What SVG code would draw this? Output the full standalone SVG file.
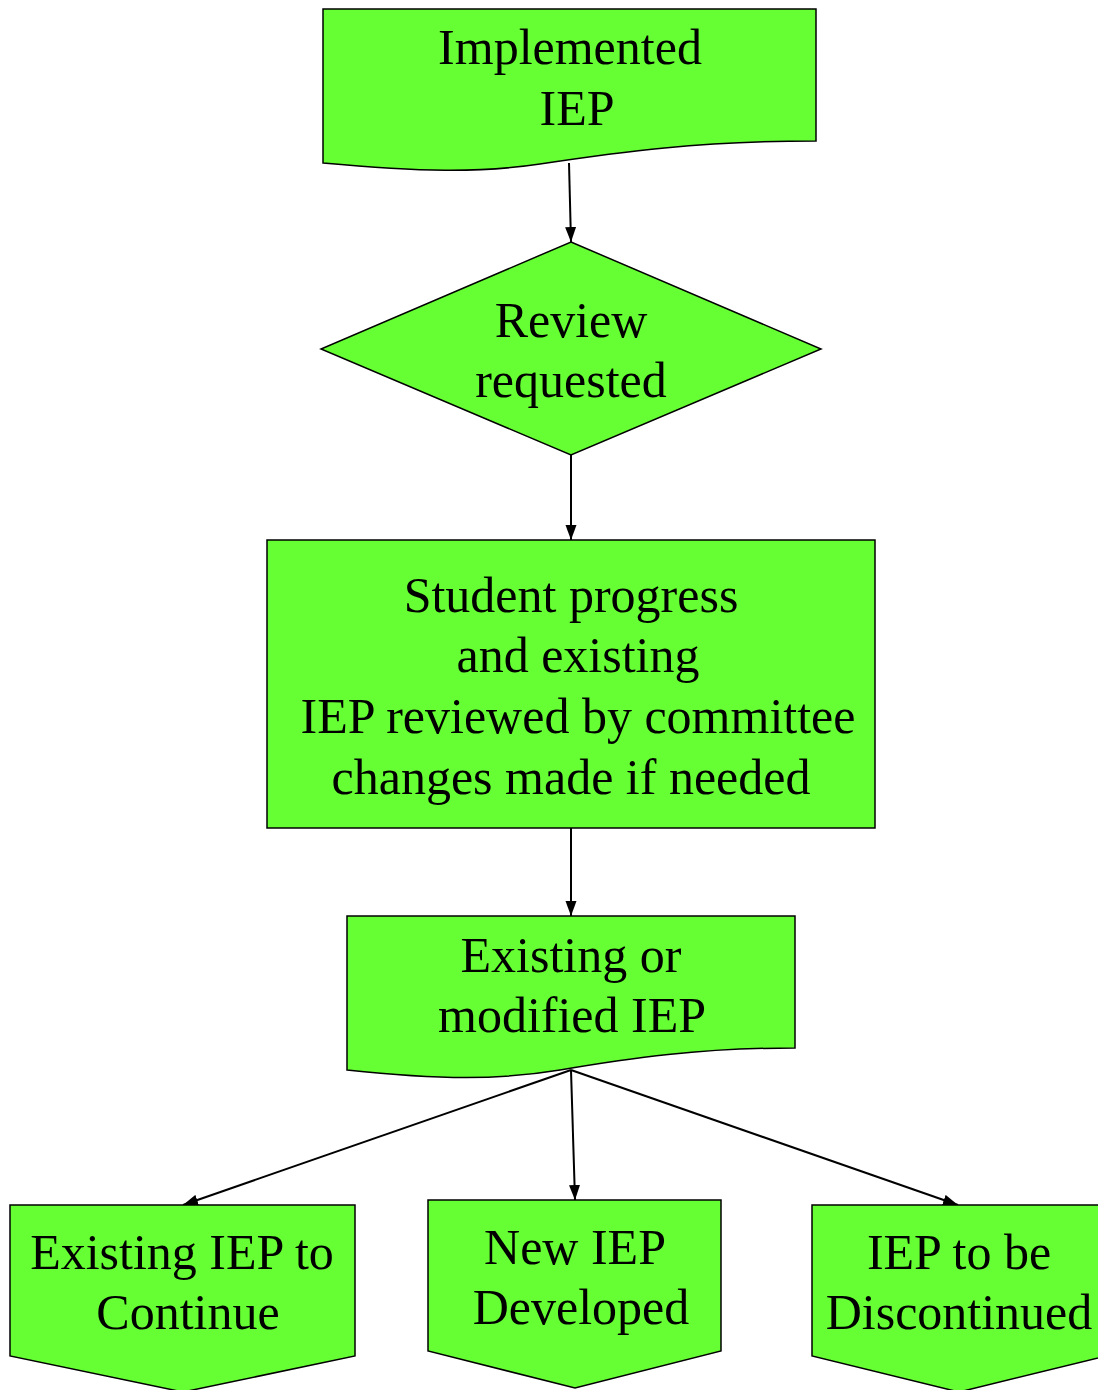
<svg xmlns="http://www.w3.org/2000/svg" width="1098" height="1390" viewBox="0 0 1098 1390">
<style>
.n{fill:#66ff33;stroke:#000;stroke-width:1.5}
.t{font-family:"Liberation Serif","Times New Roman",serif;font-size:50px;fill:#000;text-anchor:middle}
.c{stroke:#000;stroke-width:2;fill:none;marker-end:url(#ah)}
</style>
<defs>
<marker id="ah" markerWidth="15" markerHeight="12" refX="15" refY="6" orient="auto" markerUnits="userSpaceOnUse" viewBox="0 0 15 12">
<path d="M0,0.5 L15,6 L0,11.5 Z" fill="#000"/>
</marker>
</defs>
<g id="connectors">
<line class="c" x1="569" y1="163" x2="571" y2="242"/>
<line class="c" x1="571" y1="455" x2="571" y2="540"/>
<line class="c" x1="571" y1="828" x2="571" y2="916"/>
<line class="c" x1="571" y1="1070" x2="183" y2="1205"/>
<line class="c" x1="571" y1="1070" x2="575" y2="1200"/>
<line class="c" x1="571" y1="1070" x2="958" y2="1205"/>
</g>
<g id="n1">
<path class="n" d="M323,9 L816,9 L816,141 C700,141 620,152 540,164 C480,173 420,172 323,163 Z"/>
<text class="t" x="570" y="64">Implemented</text>
<text class="t" x="577" y="125">IEP</text>
</g>
<g id="n2">
<path class="n" d="M571,242 L821,349 L571,455 L321,349 Z"/>
<text class="t" x="571" y="337">Review</text>
<text class="t" x="571" y="397">requested</text>
</g>
<g id="n3">
<rect class="n" x="267" y="540" width="608" height="288"/>
<text class="t" x="571" y="612">Student progress</text>
<text class="t" x="578" y="672">and existing</text>
<text class="t" x="578" y="733">IEP reviewed by committee</text>
<text class="t" x="571" y="794">changes made if needed</text>
</g>
<g id="n4">
<path class="n" d="M347,916 L795,916 L795,1048 C700,1048 630,1058 560,1070 C500,1080 440,1080 347,1070 Z"/>
<text class="t" x="571" y="972">Existing or</text>
<text class="t" x="572" y="1032">modified IEP</text>
</g>
<g id="n5">
<path class="n" d="M10,1205 L355,1205 L355,1356 L183,1392 L10,1356 Z"/>
<text class="t" x="182" y="1269">Existing IEP to</text>
<text class="t" x="188" y="1329">Continue</text>
</g>
<g id="n6">
<path class="n" d="M428,1200 L721,1200 L721,1351 L575,1388 L428,1351 Z"/>
<text class="t" x="575" y="1264">New IEP</text>
<text class="t" x="581" y="1324">Developed</text>
</g>
<g id="n7">
<path class="n" d="M812,1205 L1106,1205 L1106,1356 L959,1392 L812,1356 Z"/>
<text class="t" x="959" y="1269">IEP to be</text>
<text class="t" x="959" y="1329">Discontinued</text>
</g>
</svg>
